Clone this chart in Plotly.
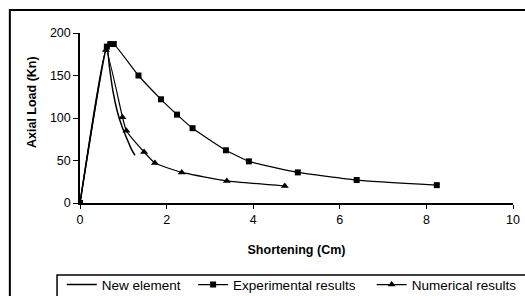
import plotly.graph_objects as go

# New element (line only)
new_x = [0, 0.62, 0.68, 0.76, 0.86, 0.97, 1.08, 1.18, 1.27]
new_y = [0, 185, 160, 132, 108, 90, 76, 64, 56]

# Experimental results (squares)
exp_x = [0, 0.62, 0.7, 0.78, 1.35, 1.87, 2.24, 2.6, 3.37, 3.9, 5.03, 6.39, 8.24]
exp_y = [0, 184, 187, 187, 150, 122, 104, 88, 62, 49, 36, 27, 21]

# Numerical results (triangles)
num_x = [0, 0.6, 0.98, 1.07, 1.48, 1.73, 2.35, 3.39, 4.73]
num_y = [0, 180, 101, 85, 60, 47, 36, 26, 20]

xticks = [0, 2, 4, 6, 8, 10]
yticks = [0, 50, 100, 150, 200]

names = ["New element", "Experimental results", "Numerical results"]

FONT = "Liberation Sans, Arial"
NB = "\u00a0"

fig = go.Figure()
fig.add_trace(go.Scatter(x=new_x, y=new_y, mode="lines", name=names[0] + NB * 2,
                         line=dict(color="black", width=1.5, shape="spline", smoothing=0.6)))
fig.add_trace(go.Scatter(x=exp_x, y=exp_y, mode="lines+markers", name=names[1] + NB * 3,
                         line=dict(color="black", width=1.2, shape="spline", smoothing=0.4),
                         marker=dict(symbol="square", size=6, color="black")))
fig.add_trace(go.Scatter(x=num_x, y=num_y, mode="lines+markers", name=names[2],
                         line=dict(color="black", width=1.2, shape="spline", smoothing=0.4),
                         marker=dict(symbol="triangle-up", size=7, color="black")))
fig.add_trace(go.Scatter(x=[0], y=[0], mode="markers", showlegend=False,
                         marker=dict(color="black", size=6)))

fig.update_layout(
    width=525, height=296,
    margin=dict(l=80, r=12, t=33, b=93, autoexpand=False),
    paper_bgcolor="white", plot_bgcolor="white",
    font=dict(family=FONT, color="black", size=12.5),
    xaxis=dict(range=[0, 10], tickvals=xticks, showgrid=False, zeroline=False,
               showline=True, linecolor="black", linewidth=2, automargin=False,
               ticks="outside", ticklen=4, tickcolor="black",
               title=dict(text="<b>Shortening (Cm)</b>", font=dict(size=12.5), standoff=19)),
    yaxis=dict(range=[0, 200], tickvals=yticks, showgrid=False, zeroline=False,
               showline=True, linecolor="black", linewidth=1.5, automargin=False,
               ticks="outside", ticklen=5, tickcolor="black"),
    legend=dict(orientation="h", x=-0.042, y=-0.39, xanchor="left", yanchor="top",
                bgcolor="rgba(0,0,0,0)", borderwidth=0, font=dict(size=13.5),
                itemwidth=30, tracegroupgap=0),
    annotations=[dict(text="<b>Axial Load (Kn)</b>", textangle=-90, xref="paper", yref="paper",
                      x=(32 - 80) / 433, y=(203 - 102) / 170, showarrow=False,
                      font=dict(size=12.5), xanchor="center", yanchor="middle")],
    shapes=[
        dict(type="rect", xref="paper", yref="paper", x0=-0.162, x1=1.1, y0=-0.7, y1=1.135,
             line=dict(color="black", width=2), layer="below"),
        dict(type="rect", xref="paper", yref="paper", x0=-0.053, x1=1.1, y0=-0.7, y1=-0.4235,
             line=dict(color="black", width=1.5), layer="below"),
    ],
)

fig.write_html("out.html", config={"displayModeBar": False},
               post_script="document.body.style.margin='0';document.body.style.overflow='hidden';")
